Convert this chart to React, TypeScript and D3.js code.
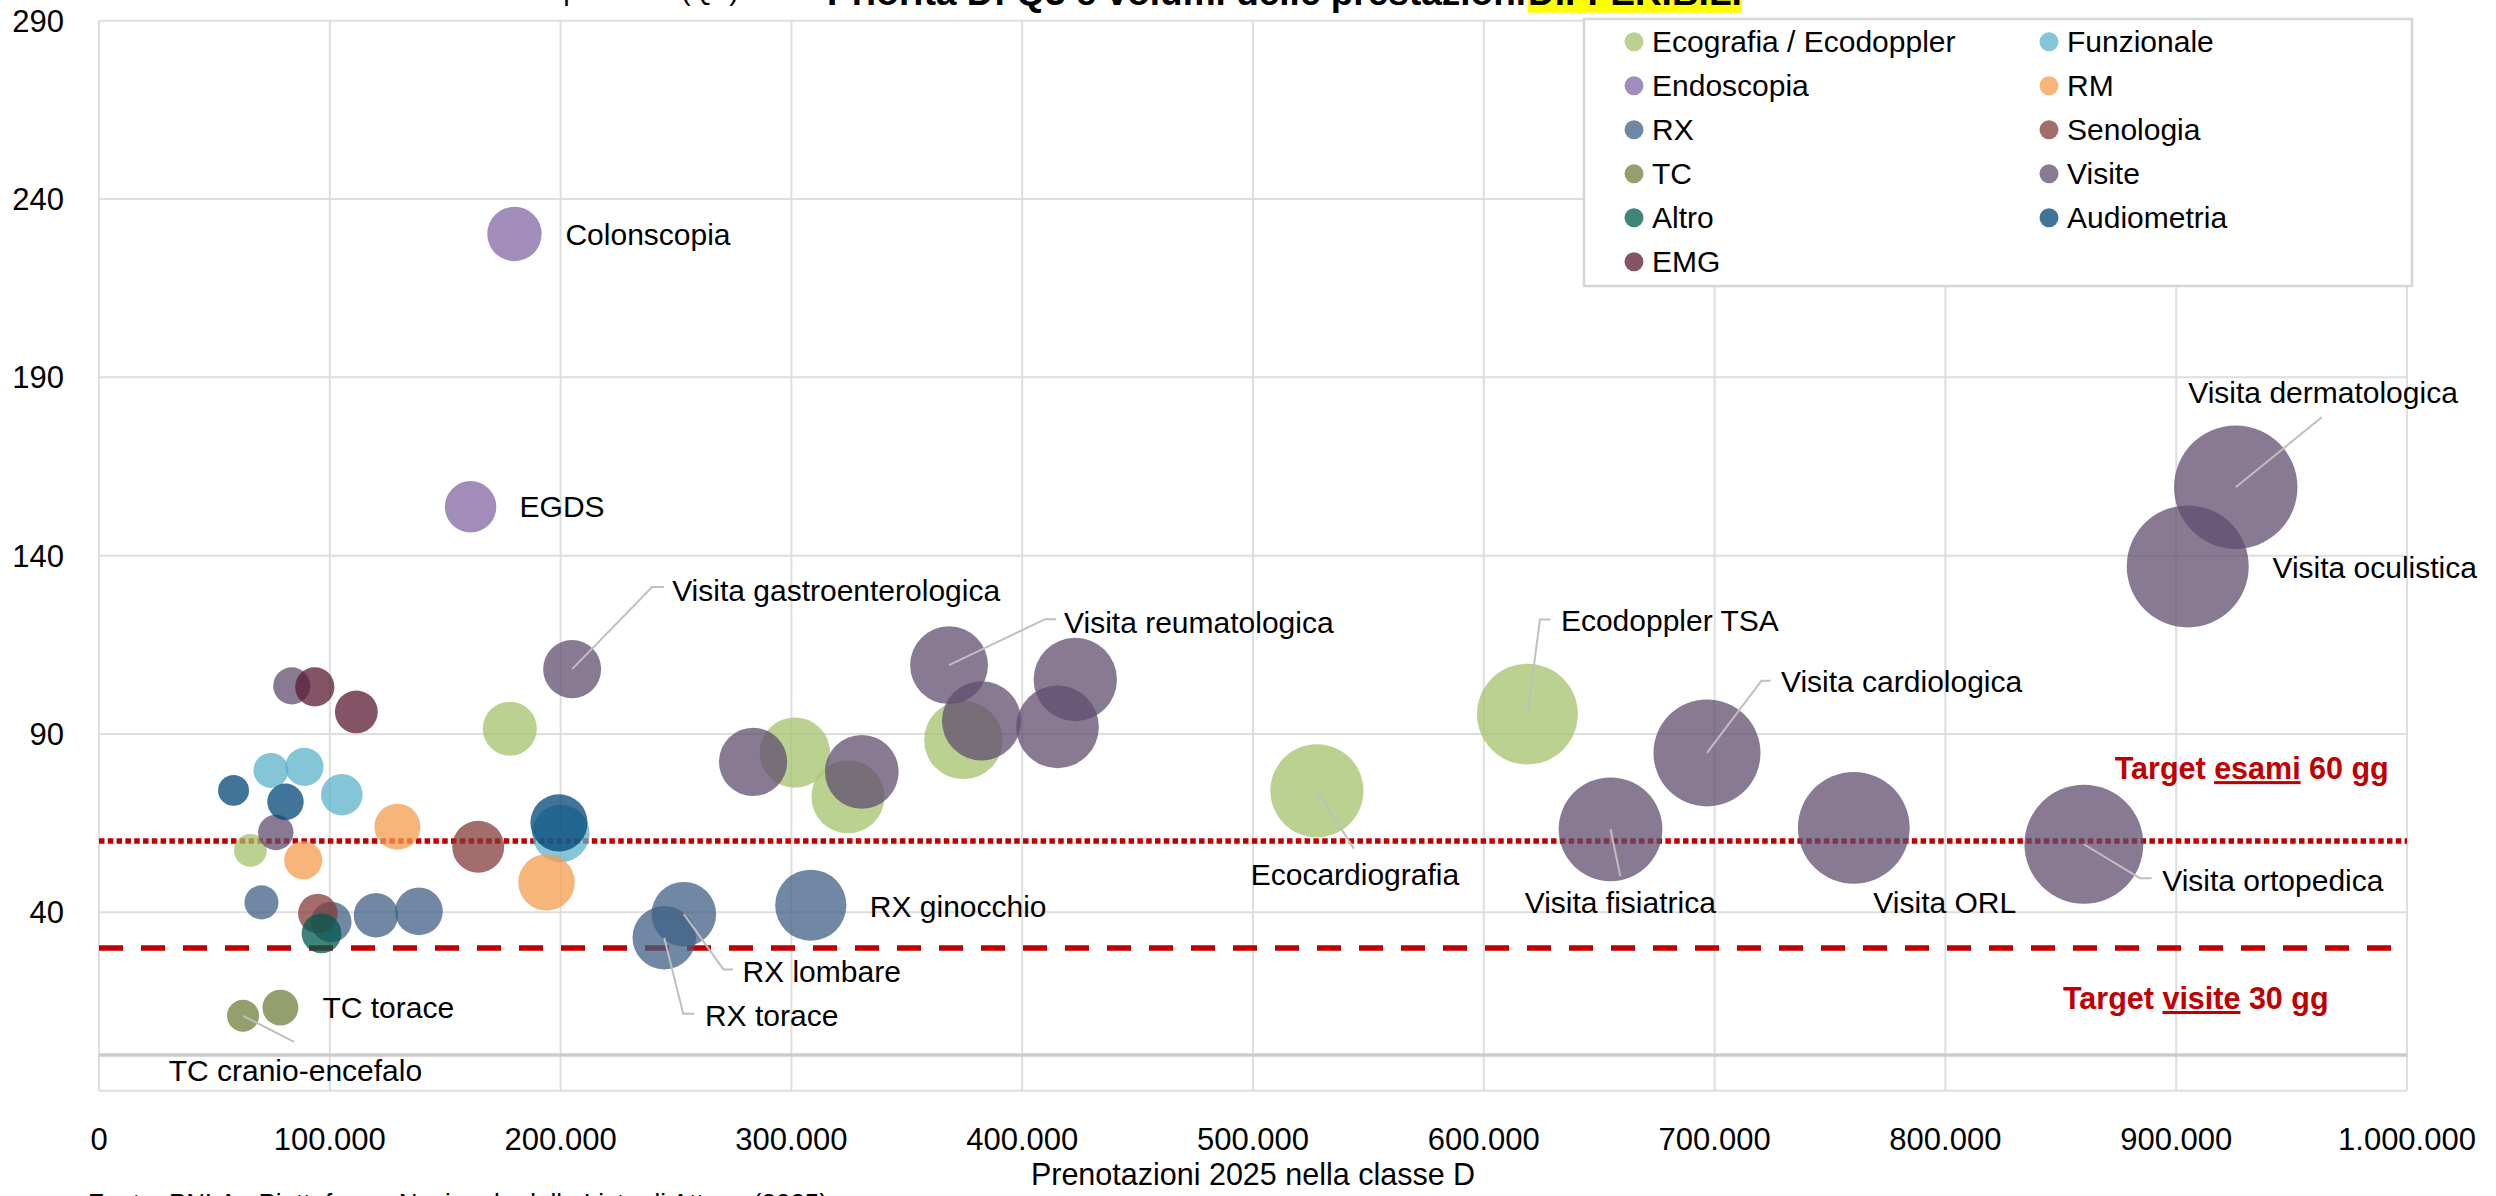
import React from "react";
import * as d3 from "d3";

const W = 2496;
const H = 1196;

// ---------- DATA ----------
const categories = [
  "Ecografia / Ecodoppler",
  "Funzionale",
  "Endoscopia",
  "RM",
  "RX",
  "Senologia",
  "TC",
  "Visite",
  "Altro",
  "Audiometria",
  "EMG",
];

type Pt = [number, number, string?];

const ecografia: Pt[] = [
  [65600, 57.4],
  [178000, 91.5],
  [301500, 84.8],
  [324500, 72.4],
  [374500, 88.3],
  [527700, 74.1, "Ecocardiografia"],
  [618900, 95.6, "Ecodoppler TSA"],
];
const funzionale: Pt[] = [
  [74500, 79.8],
  [89000, 80.8],
  [105200, 73.0],
  [200100, 62.1],
];
const endoscopia: Pt[] = [
  [180000, 230.2, "Colonscopia"],
  [161000, 153.7, "EGDS"],
];
const rm: Pt[] = [
  [88500, 54.6],
  [129300, 64.0],
  [193900, 48.4],
];
const rx: Pt[] = [
  [70400, 42.8],
  [100600, 37.3],
  [120000, 39.2],
  [138600, 40.3],
  [244900, 32.9, "RX torace"],
  [253400, 39.5, "RX lombare"],
  [308400, 42.0, "RX ginocchio"],
];
const senologia: Pt[] = [
  [94800, 39.7],
  [164300, 58.4],
];
const tc: Pt[] = [
  [62400, 11.0, "TC cranio-encefalo"],
  [78600, 13.3, "TC torace"],
];
const visite: Pt[] = [
  [76600, 62.4],
  [83500, 103.5],
  [205000, 108.2, "Visita gastroenterologica"],
  [283400, 82.2],
  [330500, 79.4],
  [368300, 109.3, "Visita reumatologica"],
  [382400, 93.7],
  [415300, 92.0],
  [423000, 105.3],
  [654900, 63.3, "Visita fisiatrica"],
  [696700, 84.7, "Visita cardiologica"],
  [760300, 63.7, "Visita ORL"],
  [860000, 59.1, "Visita ortopedica"],
  [905000, 137.0, "Visita oculistica"],
  [925800, 159.2, "Visita dermatologica"],
];
const altro: Pt[] = [[96400, 34.1]];
const audiometria: Pt[] = [
  [58300, 74.2],
  [80800, 71.0],
  [199300, 65.1],
];
const emg: Pt[] = [
  [93500, 103.2],
  [111500, 96.2],
];

const seriesValues: Pt[][] = [
  ecografia,
  funzionale,
  endoscopia,
  rm,
  rx,
  senologia,
  tc,
  visite,
  altro,
  audiometria,
  emg,
];

const xTicks = d3.range(0, 1000001, 100000);
const yTicks = d3.range(-10, 291, 50);
const targetEsami = 60;
const targetVisite = 30;

const titleLeft = "Tempi attesa (Q3)";
const titleMain = "Priorità D: Q3 e volumi delle prestazioni ";
const titleHighlight = "DIFFERIBILI";
const xAxisTitle = "Prenotazioni 2025 nella classe D";
const footer = "Fonte: PNLA - Piattaforma Nazionale delle Liste di Attesa (2025)";

// ---------- STYLE / LAYOUT ----------
const colors: Record<string, string> = {
  "Ecografia / Ecodoppler": "#a4c26b",
  Funzionale: "#5bb2cb",
  Endoscopia: "#8266a3",
  RM: "#f69c4e",
  RX: "#406084",
  Senologia: "#833c3a",
  TC: "#6f803e",
  Visite: "#604e6f",
  Altro: "#005a4f",
  Audiometria: "#004676",
  EMG: "#5a1b33",
};
const OPACITY = 0.75;
const FONT = "'Liberation Sans', Arial, sans-serif";

const plot = { left: 99, right: 2407, top: 20.7, bottom: 1090.7 };

type LabelCfg = {
  tx: number;
  ty: number;
  anchor: "start" | "middle";
  leader?: [number, number][];
};
const labelLayout: Record<string, LabelCfg> = {
  Colonscopia: { tx: 51, ty: 1, anchor: "start" },
  EGDS: { tx: 49, ty: 0, anchor: "start" },
  "Visita gastroenterologica": { tx: 100, ty: -79, anchor: "start", leader: [[0, 0], [80, -82], [92, -82]] },
  "Visita reumatologica": { tx: 115, ty: -43, anchor: "start", leader: [[0, 0], [96, -46], [107, -46]] },
  "RX ginocchio": { tx: 59, ty: 1, anchor: "start" },
  Ecocardiografia: { tx: 38, ty: 84, anchor: "middle", leader: [[0, 0], [37, 58]] },
  "RX lombare": { tx: 58.6, ty: 57.7, anchor: "start", leader: [[0, 0], [39.6, 55.3], [49, 55.3]] },
  "RX torace": { tx: 40.7, ty: 77.7, anchor: "start", leader: [[0, 0], [19, 76], [30, 76]] },
  "TC torace": { tx: 42, ty: 0, anchor: "start" },
  "TC cranio-encefalo": { tx: 52.4, ty: 54.3, anchor: "middle", leader: [[0, 0], [51, 26]] },
  "Ecodoppler TSA": { tx: 33.5, ty: -93.8, anchor: "start", leader: [[0, 0], [12.6, -94.6], [23, -94.6]] },
  "Visita cardiologica": { tx: 74, ty: -71.4, anchor: "start", leader: [[0, 0], [54.5, -72.3], [63.6, -72.3]] },
  "Visita fisiatrica": { tx: 9.8, ty: 73.7, anchor: "middle", leader: [[0, 0], [9.8, 46.9]] },
  "Visita ORL": { tx: 91, ty: 75, anchor: "middle" },
  "Visita ortopedica": { tx: 78.3, ty: 36.2, anchor: "start", leader: [[0, 0], [56, 33.9], [67.8, 33.9]] },
  "Visita dermatologica": { tx: 87.3, ty: -94.6, anchor: "middle", leader: [[0, 0], [86, -70]] },
  "Visita oculistica": { tx: 84.7, ty: 1.4, anchor: "start" },
};

const itLocale = d3.formatLocale({
  decimal: ",",
  thousands: ".",
  grouping: [3],
  currency: ["€", ""],
});
const fmt = itLocale.format(",d");

export default function App() {
  const x = d3.scaleLinear().domain([0, 1000000]).range([plot.left, plot.right]);
  const y = d3.scaleLinear().domain([-10, 290]).range([plot.bottom, plot.top]);
  const r = d3.scaleSqrt().domain([0, 1000000]).range([0, 64.1]);
  const line = d3.line();

  const labelled: { name: string; cx: number; cy: number }[] = [];
  seriesValues.forEach((s) =>
    s.forEach((p) => {
      if (p[2]) labelled.push({ name: p[2], cx: x(p[0]), cy: y(p[1]) });
    })
  );

  const legendBox = { x: 1584, y: 19, w: 828, h: 267 };

  return (
    <svg
      width={W}
      height={H}
      viewBox={`0 0 ${W} ${H}`}
      style={{ position: "absolute", left: 0, top: 0, display: "block", background: "#fff" }}
      fontFamily={FONT}
    >
      <rect x={0} y={0} width={W} height={H} fill="#fff" />

      {/* gridlines */}
      {xTicks.map((t) => (
        <line key={"gx" + t} x1={x(t)} x2={x(t)} y1={plot.top} y2={plot.bottom} stroke="#dedede" strokeWidth={2} />
      ))}
      {yTicks.map((t) => (
        <line key={"gy" + t} x1={plot.left} x2={plot.right} y1={y(t)} y2={y(t)} stroke="#dedede" strokeWidth={2} />
      ))}
      <line x1={plot.left} x2={plot.right} y1={y(0)} y2={y(0)} stroke="#cccccc" strokeWidth={3.5} />

      {/* y tick labels */}
      {yTicks
        .filter((t) => t > 0)
        .map((t) => (
          <text key={"yl" + t} x={64} y={y(t)} dy="0.35em" textAnchor="end" fontSize={31} fill="#000">
            {t}
          </text>
        ))}
      {/* x tick labels */}
      {xTicks.map((t) => (
        <text key={"xl" + t} x={x(t)} y={1150} textAnchor="middle" fontSize={31} fill="#000">
          {fmt(t)}
        </text>
      ))}
      <text x={(plot.left + plot.right) / 2} y={1185} textAnchor="middle" fontSize={30.5} fill="#000">
        {xAxisTitle}
      </text>

      {/* target lines */}
      <line
        x1={plot.left}
        x2={plot.right}
        y1={y(targetEsami)}
        y2={y(targetEsami)}
        stroke="#c00000"
        strokeWidth={5.5}
        strokeDasharray="5.5,3.3"
      />
      <line
        x1={plot.left}
        x2={plot.right}
        y1={y(targetVisite)}
        y2={y(targetVisite)}
        stroke="#c00000"
        strokeWidth={5.5}
        strokeDasharray="24,18"
      />

      {/* bubbles */}
      {seriesValues.map((s, i) => (
        <g key={"s" + i} fill={colors[categories[i]]} fillOpacity={OPACITY}>
          {s.map((p, j) => (
            <circle key={j} cx={x(p[0])} cy={y(p[1])} r={r(p[0])} />
          ))}
        </g>
      ))}

      {/* labels */}
      {labelled.map((l) => {
        const cfg = labelLayout[l.name];
        if (!cfg) return null;
        return (
          <g key={"lab" + l.name}>
            {cfg.leader && (
              <path
                d={line(cfg.leader.map(([dx, dy]) => [l.cx + dx, l.cy + dy]) as [number, number][]) || ""}
                fill="none"
                stroke="#bfbfbf"
                strokeWidth={2}
              />
            )}
            <text
              x={l.cx + cfg.tx}
              y={l.cy + cfg.ty}
              dy="0.35em"
              textAnchor={cfg.anchor}
              fontSize={30}
              fill="#000"
            >
              {l.name}
            </text>
          </g>
        );
      })}

      {/* target annotations */}
      <text x={2114.7} y={y(targetEsami) - 72.6} dy="0.35em" fontSize={30.5} fontWeight="bold" fill="#c00000">
        Target <tspan textDecoration="underline" style={{ textDecoration: "underline" }}>esami</tspan> 60 gg
      </text>
      <text x={2063} y={y(targetVisite) + 50.3} dy="0.35em" fontSize={30.5} fontWeight="bold" fill="#c00000">
        Target <tspan textDecoration="underline" style={{ textDecoration: "underline" }}>visite</tspan> 30 gg
      </text>

      {/* legend */}
      <rect
        x={legendBox.x}
        y={legendBox.y}
        width={legendBox.w}
        height={legendBox.h}
        fill="#fff"
        stroke="#d6d6d6"
        strokeWidth={2.5}
      />
      {categories.map((c, i) => {
        const col = i % 2;
        const row = Math.floor(i / 2);
        const mx = col === 0 ? 1634 : 2049;
        const my = 41.7 + row * 44;
        return (
          <g key={"lg" + c}>
            <circle cx={mx} cy={my} r={9.5} fill={colors[c]} fillOpacity={OPACITY} />
            <text x={mx + 18} y={my} dy="0.35em" fontSize={30} fill="#000">
              {c}
            </text>
          </g>
        );
      })}

      {/* title (cut at top) */}
      <text x={739} y={0} textAnchor="end" fontSize={29} fill="#000">
        {titleLeft}
      </text>
      <rect x={1528} y={-40} width={214} height={52.7} fill="#ffff00" />
      <text x={827} y={5} fontSize={37} fontWeight="bold" fill="#000">
        {titleMain}
      </text>
      <text x={1528} y={5} fontSize={37} fontWeight="bold" fill="#000">
        {titleHighlight}
      </text>

      {/* footer (cut at bottom) */}
      <text x={88} y={1212} fontSize={26} fill="#000">
        {footer}
      </text>
    </svg>
  );
}
